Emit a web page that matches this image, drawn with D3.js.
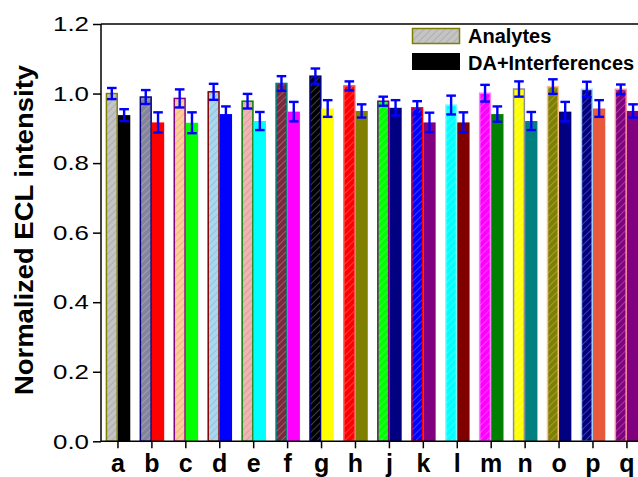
<!DOCTYPE html>
<html><head><meta charset="utf-8">
<script src="https://cdn.jsdelivr.net/npm/d3@7"></script>
<style>html,body{margin:0;padding:0;background:#fff;overflow:hidden}</style>
</head><body>
<svg id="chart" width="638" height="477"></svg>
<script>
const categories = ["a","b","c","d","e","f","g","h","j","k","l","m","n","o","p","q"];
const analytes = [1.000,0.990,0.986,1.005,0.978,1.029,1.050,1.022,0.978,0.959,0.967,1.001,1.013,1.020,1.012,1.012];
const analytesErr = [0.016,0.020,0.026,0.023,0.021,0.021,0.022,0.013,0.013,0.019,0.027,0.024,0.022,0.021,0.022,0.014];
const interferences = [0.938,0.917,0.916,0.941,0.921,0.948,0.957,0.950,0.959,0.917,0.917,0.941,0.921,0.948,0.957,0.950];
const interferencesErr = [0.017,0.029,0.030,0.022,0.026,0.028,0.024,0.019,0.022,0.028,0.029,0.022,0.026,0.028,0.024,0.019];
const yTicks = [0.0,0.2,0.4,0.6,0.8,1.0,1.2];
const seriesNames = ["Analytes","DA+Interferences"];

const analyteFill = ["#c4c4c4","#84849a","#ffcc99","#a8d8f0","#f0b4b4","#7a2a3a","#000000","#ff0000","#00ff00","#0000ff","#00ffff","#ff00ff","#ffff00","#808000","#000080","#800080"];
const analyteStroke = ["#808000","#000080","#800080","#800000","#008000","#008080","#000080","#ff5050","#800080","#ff0000","#80ffff","#ff80ff","#909090","#ffc090","#a0d0ff","#ff9090"];
const interferenceFill = ["#000000","#ff0000","#00ff00","#0000ff","#00ffff","#ff00ff","#ffff00","#808000","#000080","#800080","#800000","#008000","#008080","#000080","#e8583a","#800080"];

(function(){
const FONT = "'Liberation Sans', Arial, sans-serif";
const svg = d3.select("#chart");
const mLeft = 101, mTop = 24, mBottom = 441.3, step = 33.93;
const x = d3.scaleBand().domain(categories).range([mLeft, mLeft + step*categories.length]).paddingInner(0.275).paddingOuter(0.1375);
const xs = d3.scaleBand().domain(seriesNames).range([0, x.bandwidth()]);
const y = d3.scaleLinear().domain([0,1.2]).range([mBottom, mTop]);

const defs = svg.append("defs");
function hatch(id, fill, stripe){
  const p = defs.append("pattern").attr("id",id).attr("patternUnits","userSpaceOnUse")
    .attr("width",5).attr("height",5).attr("patternTransform","rotate(45)");
  p.append("rect").attr("width",5).attr("height",5).attr("fill",fill);
  p.append("line").attr("x1",0).attr("y1",0).attr("x2",0).attr("y2",5).attr("stroke",stripe).attr("stroke-width",1.2);
}
const lightSet = new Set([0,2,3,4]);
categories.forEach((c,i)=>hatch("h"+i, analyteFill[i], lightSet.has(i)?"rgba(0,0,0,0.18)":"rgba(255,255,255,0.4)"));
hatch("hleg", analyteFill[0], "rgba(0,0,0,0.18)");

const g = svg.append("g");

g.selectAll(".ab").data(categories).join("rect")
  .attr("x", c => x(c) + xs("Analytes") + 0.75)
  .attr("y", (c,i) => y(analytes[i]))
  .attr("width", xs.bandwidth() - 1.5)
  .attr("height", (c,i) => y(0) - y(analytes[i]))
  .attr("fill", (c,i) => "url(#h"+i+")")
  .attr("stroke", (c,i) => analyteStroke[i]).attr("stroke-width",1.5);

g.selectAll(".ib").data(categories).join("rect")
  .attr("x", c => x(c) + xs("DA+Interferences"))
  .attr("y", (c,i) => y(interferences[i]))
  .attr("width", xs.bandwidth())
  .attr("height", (c,i) => y(0) - y(interferences[i]))
  .attr("fill", (c,i) => interferenceFill[i]);

function errBars(vals, errs, name){
  const cx = c => x(c) + xs(name) + xs.bandwidth()/2;
  const eg = g.append("g").attr("stroke","#0000ff").attr("stroke-width",2.4);
  categories.forEach((c,i)=>{
    eg.append("line").attr("x1",cx(c)).attr("x2",cx(c)).attr("y1",y(vals[i]+errs[i])).attr("y2",y(vals[i]-errs[i]));
    eg.append("line").attr("x1",cx(c)-4.8).attr("x2",cx(c)+4.8).attr("y1",y(vals[i]+errs[i])).attr("y2",y(vals[i]+errs[i]));
    eg.append("line").attr("x1",cx(c)-4.8).attr("x2",cx(c)+4.8).attr("y1",y(vals[i]-errs[i])).attr("y2",y(vals[i]-errs[i]));
  });
}
errBars(analytes, analytesErr, "Analytes");
errBars(interferences, interferencesErr, "DA+Interferences");

const yAxis = svg.append("g").attr("transform",`translate(${mLeft},0)`)
  .call(d3.axisLeft(y).tickValues(yTicks).tickFormat(d3.format(".1f")).tickSize(8).tickPadding(4));
yAxis.select(".domain").remove();
yAxis.selectAll("line").attr("stroke","#000").attr("stroke-width",1.5);
yAxis.selectAll("text").attr("font-family",FONT).attr("font-size",21).attr("fill","#000")
  .attr("textLength",36).attr("lengthAdjust","spacingAndGlyphs");

const xAxis = svg.append("g").attr("transform",`translate(0,${mBottom})`)
  .call(d3.axisBottom(x).tickSize(7).tickPadding(6));
xAxis.select(".domain").remove();
xAxis.selectAll("line").attr("stroke","#000").attr("stroke-width",1.5);
xAxis.selectAll("text").attr("font-family",FONT).attr("font-size",25).attr("font-weight","bold").attr("fill","#000")
  .attr("y",30.5).attr("dy",0);

svg.append("line").attr("x1",mLeft).attr("x2",638).attr("y1",mBottom).attr("y2",mBottom).attr("stroke","#000").attr("stroke-width",1.5);
svg.append("line").attr("x1",mLeft).attr("x2",638).attr("y1",mTop).attr("y2",mTop).attr("stroke","#000").attr("stroke-width",1.5);
svg.append("line").attr("x1",mLeft).attr("x2",mLeft).attr("y1",mTop).attr("y2",mBottom).attr("stroke","#000").attr("stroke-width",1.5);

svg.append("text").attr("transform",`translate(33,230) rotate(-90)`)
  .attr("text-anchor","middle").attr("font-family",FONT)
  .attr("font-size",26).attr("font-weight","bold")
  .attr("textLength",330).attr("lengthAdjust","spacingAndGlyphs")
  .text("Normalized ECL intensity");

const lg = svg.append("g").attr("font-family",FONT).attr("font-size",20).attr("font-weight","bold");
lg.append("rect").attr("x",412.5).attr("y",28.5).attr("width",47).attr("height",15).attr("fill","url(#hleg)").attr("stroke",analyteStroke[0]).attr("stroke-width",1.5);
lg.append("text").attr("x",468).attr("y",42.5).text(seriesNames[0]);
lg.append("rect").attr("x",412).attr("y",53).attr("width",48).attr("height",17).attr("fill","#000");
lg.append("text").attr("x",468).attr("y",69.5).text(seriesNames[1]);
})();
</script>
</body></html>
